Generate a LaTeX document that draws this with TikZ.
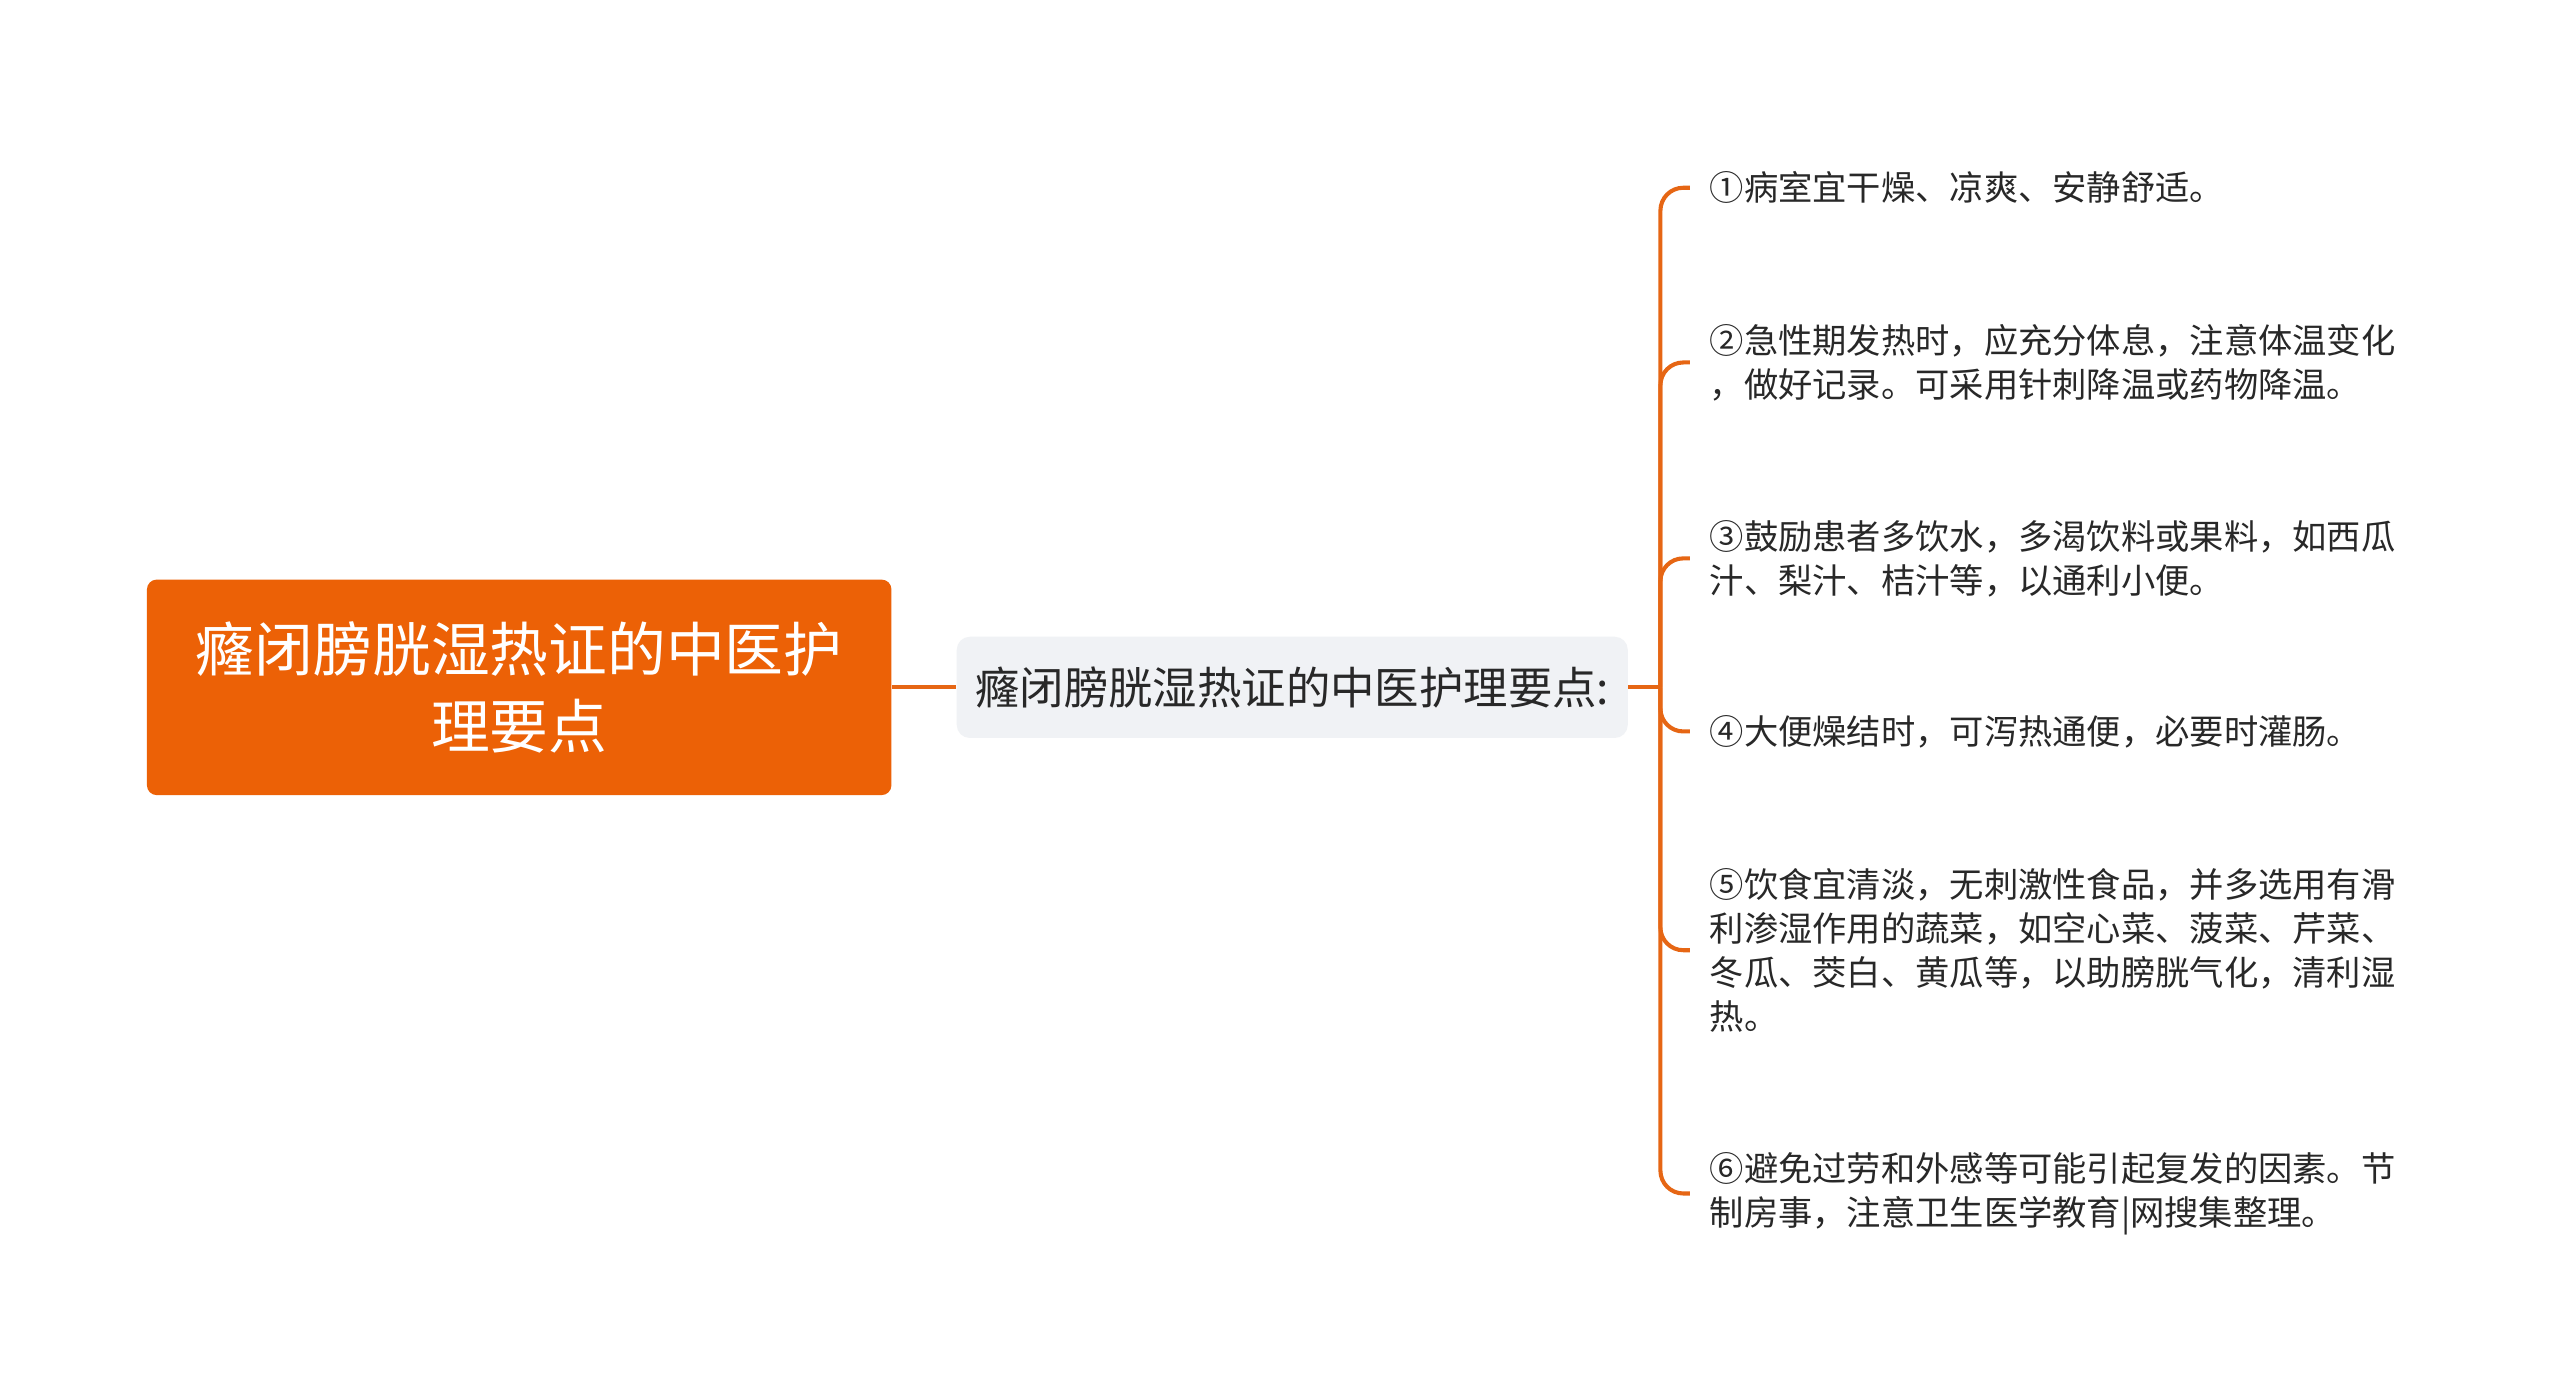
\documentclass[tikz,border=0pt]{standalone}
\usepackage{fontspec}
\setmainfont{Noto Sans CJK SC}
\definecolor{rootorange}{RGB}{236,97,6}
\definecolor{lineorange}{RGB}{230,102,20}
\definecolor{midgray}{RGB}{240,242,245}
\definecolor{txtgray}{RGB}{40,40,40}

\begin{document}
\begin{tikzpicture}[x=1pt,y=-1pt]
\useasboundingbox[fill=white] (0,0) rectangle (1568,856);
 \tikzstyle{leaf}=[anchor=west, inner xsep=12pt, inner ysep=0pt, align=left, text=txtgray, font=\fontsize{21}{27}\selectfont]
 \tikzstyle{branch}=[draw=lineorange, line width=2.5pt, rounded corners=14pt]
\node[fill=rootorange, rounded corners=6pt, minimum width=456pt, minimum height=132pt, align=center, text=white, font=\fontsize{36}{47}\selectfont](root) at (318,421){癃闭膀胱湿热证的中医护\\理要点};
\node[fill=midgray, rounded corners=8pt, minimum width=411pt, minimum height=62pt, text=txtgray, font=\fontsize{27.2}{32}\selectfont](mid) at (791.5,421){癃闭膀胱湿热证的中医护理要点:};
\coordinate (hub) at (1017,421);
\node[leaf](l1) at (1035,115){①病室宜干燥、凉爽、安静舒适。};
\node[leaf](l2) at (1035,222){②急性期发热时，应充分体息，注意体温变化\\，做好记录。可采用针刺降温或药物降温。};
\node[leaf](l3) at (1035,342){③鼓励患者多饮水，多渴饮料或果料，如西瓜\\汁、梨汁、桔汁等，以通利小便。};
\node[leaf](l4) at (1035,448){④大便燥结时，可泻热通便，必要时灌肠。};
\node[leaf](l5) at (1035,582){⑤饮食宜清淡，无刺激性食品，并多选用有滑\\利渗湿作用的蔬菜，如空心菜、菠菜、芹菜、\\冬瓜、茭白、黄瓜等，以助膀胱气化，清利湿\\热。};
\node[leaf](l6) at (1035,731){⑥避免过劳和外感等可能引起复发的因素。节\\制房事，注意卫生医学教育|网搜集整理。};
 \draw[branch] (root.east) -- (mid.west);
 \draw[branch] (mid.east) -- (hub);
 \foreach \i in {l1,l2,l3,l4,l5,l6}{\draw[branch] (hub) |- (\i.west);}
\end{tikzpicture}
\end{document}
